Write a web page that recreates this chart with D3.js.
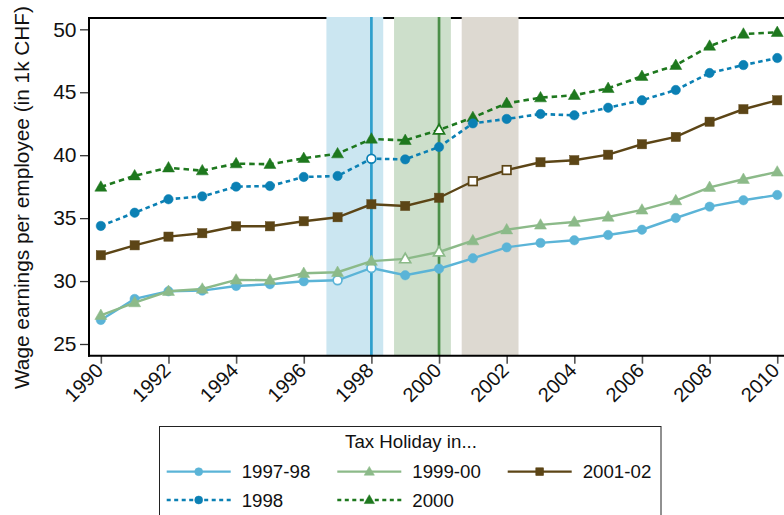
<!DOCTYPE html>
<html><head><meta charset="utf-8">
<script src="https://cdn.jsdelivr.net/npm/d3@7"></script>
<style>body{margin:0;background:#fff}svg{display:block}text{font-family:"Liberation Sans",Arial,sans-serif;fill:#111}</style>
</head><body>
<script>
const years = d3.range(1990, 2011);
const s9798 = [26.91,28.58,29.19,29.24,29.61,29.75,29.98,30.06,31.04,30.46,30.98,31.81,32.68,33.03,33.24,33.66,34.08,35.01,35.91,36.42,36.84];
const s9900 = [27.28,28.29,29.19,29.37,30.09,30.07,30.62,30.70,31.58,31.76,32.31,33.21,34.08,34.46,34.69,35.09,35.65,36.39,37.45,38.09,38.67];
const s0102 = [32.05,32.84,33.53,33.80,34.35,34.35,34.75,35.07,36.10,35.97,36.62,37.93,38.82,39.44,39.60,40.04,40.87,41.45,42.66,43.65,44.36];
const s1998 = [34.38,35.43,36.50,36.73,37.50,37.55,38.27,38.35,39.72,39.67,40.65,42.53,42.88,43.27,43.17,43.77,44.36,45.18,46.53,47.16,47.72];
const s2000 = [37.47,38.37,39.00,38.77,39.33,39.28,39.75,40.12,41.29,41.18,42.00,43.00,44.12,44.57,44.76,45.31,46.27,47.14,48.67,49.63,49.76];
const yTicks = [25,30,35,40,45,50];
const xTicks = d3.range(1990, 2011, 2);
const bands = [[1996.67,1998.35],[1998.67,2000.35],[2000.67,2002.35]];
const vlines = [1998, 2000];

const W=784,H=515;
const svg=d3.select("body").append("svg").attr("width",W).attr("height",H);
const x=d3.scaleLinear().domain([1989.65,2010.2]).range([89,784]);
const y=d3.scaleLinear().domain([24.07,50.9]).range([355.7,18]);

// top frame line
svg.append("line").attr("x1",89).attr("x2",784).attr("y1",18).attr("y2",18).attr("stroke","#000").attr("stroke-width",2);

const bandCols=["#cbe6f1","#cddfcb","#ddd9d1"];
svg.selectAll(".band").data(bands).join("rect")
 .attr("x",d=>x(d[0])).attr("width",d=>x(d[1])-x(d[0]))
 .attr("y",17).attr("height",355.7-17).attr("fill",(d,i)=>bandCols[i]);
const vCols=["#2d9fcd","#4b8f49"];
svg.selectAll(".vl").data(vlines).join("line")
 .attr("x1",d=>x(d)).attr("x2",d=>x(d)).attr("y1",17).attr("y2",355.7)
 .attr("stroke",(d,i)=>vCols[i]).attr("stroke-width",2.7);

// axes
const yAxis=svg.append("g").attr("transform","translate(89,0)")
 .call(d3.axisLeft(y).tickValues(yTicks).tickSize(9).tickPadding(3.5));
yAxis.select(".domain").remove();
yAxis.selectAll(".tick line").attr("stroke","#333").attr("stroke-width",1.3);
yAxis.selectAll(".tick text").attr("font-size",21).attr("fill","#111").attr("font-family","Liberation Sans, Arial, sans-serif");
svg.append("line").attr("x1",89).attr("x2",89).attr("y1",17).attr("y2",356.7).attr("stroke","#000").attr("stroke-width",2);

const xAxis=svg.append("g").attr("transform","translate(0,355.7)")
 .call(d3.axisBottom(x).tickValues(xTicks).tickFormat(d3.format("d")).tickSize(8));
xAxis.select(".domain").remove();
xAxis.selectAll(".tick line").attr("stroke","#555").attr("stroke-width",1.6);
xAxis.selectAll(".tick text").attr("font-size",20).attr("fill","#111")
 .attr("font-family","Liberation Sans, Arial, sans-serif")
 .attr("text-anchor","end").attr("dy",null).attr("y",null)
 .attr("transform","translate(3,16) rotate(-45)");
svg.append("line").attr("x1",88).attr("x2",784).attr("y1",355.7).attr("y2",355.7).attr("stroke","#000").attr("stroke-width",2);

svg.append("text").attr("transform","translate(28.5,197.5) rotate(-90)")
 .attr("text-anchor","middle").attr("font-size",20.8).text("Wage earnings per employee (in 1k CHF)");

// series
const series=[
 {name:"1997-98",vals:s9798,color:"#5bb4d7",dash:null,shape:"circle",open:[1997,1998]},
 {name:"1999-00",vals:s9900,color:"#8cba89",dash:null,shape:"triangle",open:[1999,2000]},
 {name:"2001-02",vals:s0102,color:"#5c4516",dash:null,shape:"square",open:[2001,2002]},
 {name:"2000",vals:s2000,color:"#1e781e",dash:"5.5,4",shape:"triangle",open:[2000]},
 {name:"1998",vals:s1998,color:"#0b80b4",dash:"4.5,3.5",shape:"circle",open:[1998]}
];
function marker(g,shape,cx,cy,color,open,scale){
 scale=scale||1;
 let el;
 if(shape==="circle"){el=g.append("circle").attr("cx",cx).attr("cy",cy).attr("r",(open?4.4:4.7)*scale);}
 else if(shape==="square"){const s=(open?8.5:9.2)*scale;el=g.append("rect").attr("x",cx-s/2).attr("y",cy-s/2).attr("width",s).attr("height",s);}
 else {const w=(open?11:12)*scale,h=w*0.87;
  el=g.append("path").attr("d",`M${cx},${cy-h*0.6}L${cx+w/2},${cy+h*0.4}L${cx-w/2},${cy+h*0.4}Z`);}
 if(open) el.attr("fill","#fff").attr("stroke",color).attr("stroke-width",1.7);
 else el.attr("fill",color).attr("stroke",color).attr("stroke-width",0.5);
}
const line=d3.line().x(d=>x(d[0])).y(d=>y(d[1]));
series.forEach(s=>{
 const pts=years.map((yr,i)=>[yr,s.vals[i]]);
 const g=svg.append("g");
 g.append("path").attr("d",line(pts)).attr("fill","none").attr("stroke",s.color)
  .attr("stroke-width",s.dash?2.6:2.4).attr("stroke-dasharray",s.dash);
 pts.forEach(p=>marker(g,s.shape,x(p[0]),y(p[1]),s.color,s.open.includes(p[0])));
});

// legend
const lg=svg.append("g");
lg.append("rect").attr("x",159.5).attr("y",426.5).attr("width",501.5).attr("height",100).attr("fill","#fff").attr("stroke","#222").attr("stroke-width",1);
lg.append("text").attr("x",411).attr("y",448).attr("text-anchor","middle").attr("font-size",18.7).text("Tax Holiday in...");
const legItems=[
 {s:series[0],col:0,row:0},{s:series[1],col:1,row:0},{s:series[2],col:2,row:0},
 {s:series[4],col:0,row:1},{s:series[3],col:1,row:1}];
const colX=[166.7,337.3,507.7],rowY=[471.7,500];
legItems.forEach(it=>{
 const x0=colX[it.col],yy=rowY[it.row];
 lg.append("line").attr("x1",x0).attr("x2",x0+64).attr("y1",yy).attr("y2",yy)
  .attr("stroke",it.s.color).attr("stroke-width",it.s.dash?2.4:2.3).attr("stroke-dasharray",it.s.dash?"4,3.5":null);
 marker(lg,it.s.shape,x0+32,yy,it.s.color,false,0.85);
 lg.append("text").attr("x",x0+75).attr("y",yy+6.5).attr("font-size",18.7).text(it.s.name);
});
</script>
</body></html>
